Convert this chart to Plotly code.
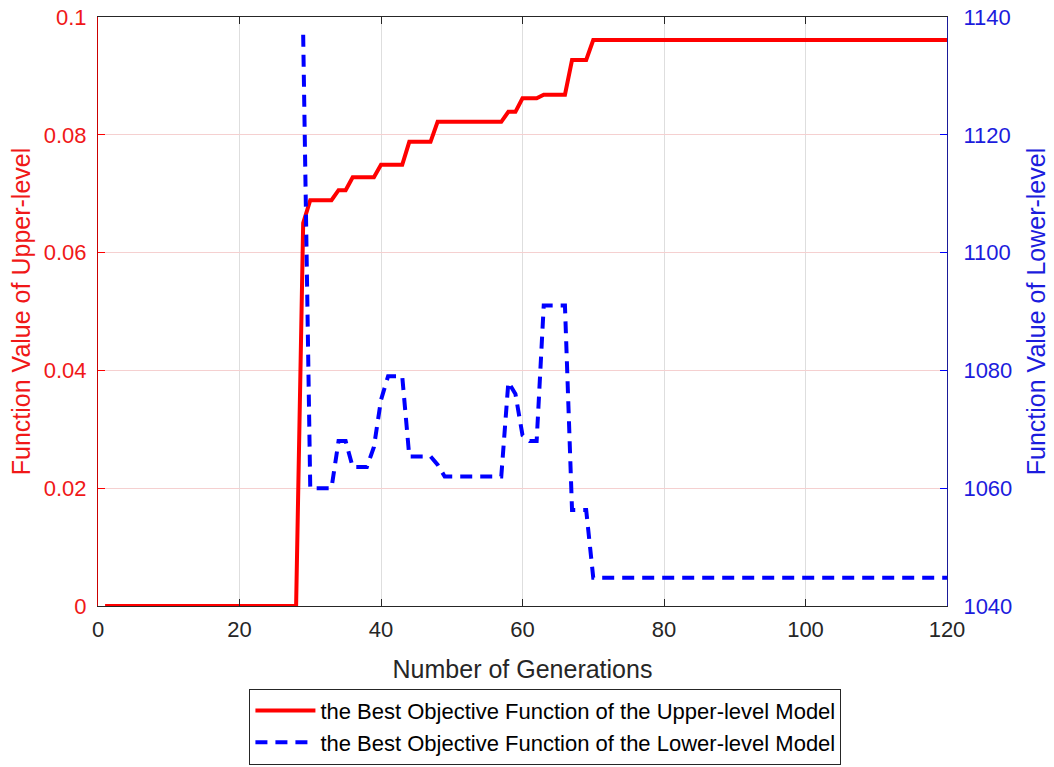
import plotly.graph_objects as go

generations = list(range(1, 121))

upper_level = [
    0, 0, 0, 0, 0, 0, 0, 0, 0, 0,
    0, 0, 0, 0, 0, 0, 0, 0, 0, 0,
    0, 0, 0, 0, 0, 0, 0, 0, 0.065, 0.0689,
    0.0689, 0.0689, 0.0689, 0.0706, 0.0706, 0.0728, 0.0728, 0.0728, 0.0728, 0.0749,
    0.0749, 0.0749, 0.0749, 0.0788, 0.0788, 0.0788, 0.0788, 0.0822, 0.0822, 0.0822,
    0.0822, 0.0822, 0.0822, 0.0822, 0.0822, 0.0822, 0.0822, 0.0839, 0.0839, 0.0862,
    0.0862, 0.0862, 0.0868, 0.0868, 0.0868, 0.0868, 0.0927, 0.0927, 0.0927, 0.0961,
    0.0961, 0.0961, 0.0961, 0.0961, 0.0961, 0.0961, 0.0961, 0.0961, 0.0961, 0.0961,
    0.0961, 0.0961, 0.0961, 0.0961, 0.0961, 0.0961, 0.0961, 0.0961, 0.0961, 0.0961,
    0.0961, 0.0961, 0.0961, 0.0961, 0.0961, 0.0961, 0.0961, 0.0961, 0.0961, 0.0961,
    0.0961, 0.0961, 0.0961, 0.0961, 0.0961, 0.0961, 0.0961, 0.0961, 0.0961, 0.0961,
    0.0961, 0.0961, 0.0961, 0.0961, 0.0961, 0.0961, 0.0961, 0.0961, 0.0961, 0.0961,
]

lower_level = [
    None, None, None, None, None, None, None, None, None, None,
    None, None, None, None, None, None, None, None, None, None,
    None, None, None, None, None, None, None, None, 1137, 1060,
    1060, 1060, 1060, 1068, 1068, 1063.6, 1063.6, 1063.6, 1067, 1075,
    1079, 1079, 1079, 1065.4, 1065.4, 1065.4, 1065.4, 1064, 1062, 1062,
    1062, 1062, 1062, 1062, 1062, 1062, 1062, 1078, 1076, 1069,
    1068, 1068, 1091, 1091, 1091, 1091, 1056.3, 1056.3, 1056.3, 1044.8,
    1044.8, 1044.8, 1044.8, 1044.8, 1044.8, 1044.8, 1044.8, 1044.8, 1044.8, 1044.8,
    1044.8, 1044.8, 1044.8, 1044.8, 1044.8, 1044.8, 1044.8, 1044.8, 1044.8, 1044.8,
    1044.8, 1044.8, 1044.8, 1044.8, 1044.8, 1044.8, 1044.8, 1044.8, 1044.8, 1044.8,
    1044.8, 1044.8, 1044.8, 1044.8, 1044.8, 1044.8, 1044.8, 1044.8, 1044.8, 1044.8,
    1044.8, 1044.8, 1044.8, 1044.8, 1044.8, 1044.8, 1044.8, 1044.8, 1044.8, 1044.8,
]

x_ticks = [0, 20, 40, 60, 80, 100, 120]
left_ticks = [0, 0.02, 0.04, 0.06, 0.08, 0.1]
left_tick_text = ["0", "0.02", "0.04", "0.06", "0.08", "0.1"]
right_ticks = [1040, 1060, 1080, 1100, 1120, 1140]

name_upper = "the Best Objective Function of the Upper-level Model"
name_lower = "the Best Objective Function of the Lower-level Model"

FONT = "Liberation Sans, Arial, Helvetica, sans-serif"
RED = "#ff0000"
BLUE = "#0000ff"
DARK = "#262626"

fig = go.Figure()
fig.add_trace(go.Scatter(
    x=generations, y=upper_level, mode="lines", name=name_upper,
    line=dict(color=RED, width=4),
))
fig.add_trace(go.Scatter(
    x=generations, y=lower_level, mode="lines", name=name_lower, yaxis="y2",
    line=dict(color=BLUE, width=4, dash="12px,8px"), connectgaps=False,
))

fig.update_layout(
    width=1054, height=767,
    margin=dict(l=98, r=107, t=17, b=161, autoexpand=False),
    paper_bgcolor="white", plot_bgcolor="white",
    font=dict(family=FONT, size=22, color=DARK),
    showlegend=True,
    legend=dict(
        x=0.527, xanchor="center", y=-0.1405, yanchor="top",
        bordercolor=DARK, borderwidth=1, bgcolor="white",
        font=dict(family=FONT, size=22, color="#000000"),
        tracegroupgap=0, itemwidth=60,
    ),
    xaxis=dict(
        range=[0, 120], tickvals=x_ticks, ticks="inside", ticklen=7,
        tickcolor=DARK, showline=True, linecolor=DARK, linewidth=1, mirror="ticks",
        showgrid=True, gridcolor="#dedede", gridwidth=1, zeroline=False,
        tickfont=dict(family=FONT, size=22, color=DARK), ticklabelstandoff=4,
        automargin=False, ticklabeloverflow="allow",
        title=dict(text="Number of Generations", font=dict(family=FONT, size=25, color=DARK), standoff=19),
    ),
    yaxis=dict(
        range=[0, 0.1], tickvals=left_ticks, ticktext=left_tick_text, ticks="inside", ticklen=7,
        tickcolor=RED, showline=True, linecolor="#cc0000", linewidth=1,
        showgrid=True, gridcolor="#f5d0d0", gridwidth=1, zeroline=False,
        tickfont=dict(family=FONT, size=22, color="#f01818"), ticklabelstandoff=6,
        automargin=False, ticklabeloverflow="allow",
        title=dict(text="Function Value of Upper-level", font=dict(family=FONT, size=25, color="#f01818"), standoff=6),
    ),
    yaxis2=dict(
        range=[1040, 1140], tickvals=right_ticks, ticks="inside", ticklen=7,
        tickcolor=BLUE, showline=True, linecolor="#1a1a99", linewidth=1,
        overlaying="y", side="right", showgrid=False, zeroline=False,
        tickfont=dict(family=FONT, size=22, color="#1c1cdd"), ticklabelstandoff=11,
        automargin=False, ticklabeloverflow="allow",
        title=dict(text="Function Value of Lower-level", font=dict(family=FONT, size=25, color="#1c1cdd"), standoff=16),
    ),
)

# Remove the browser's default 8px body margin so the figure fills the window.
fig.write_html(
    "out.html",
    config={"displayModeBar": False},
    post_script="document.body.style.margin='0px';document.body.style.overflow='hidden';",
)
